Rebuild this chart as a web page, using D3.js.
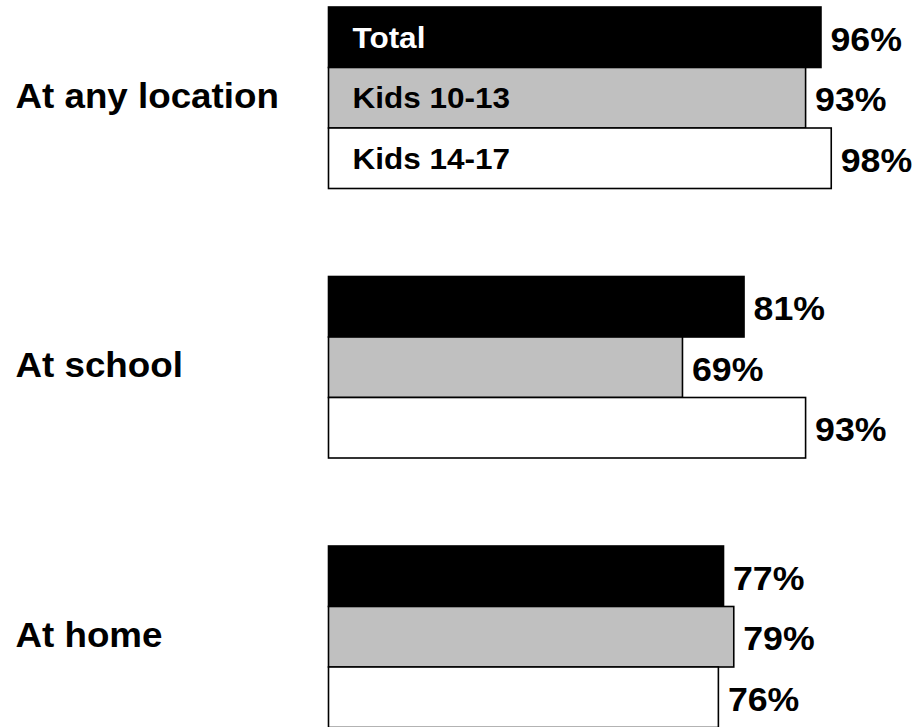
<!DOCTYPE html>
<html>
<head>
<meta charset="utf-8">
<script src="https://cdn.jsdelivr.net/npm/d3@7"></script>
<style>
html,body{margin:0;padding:0;background:#fff;}
svg{display:block;font-family:Arial,"Liberation Sans",sans-serif;font-weight:bold;}
</style>
</head>
<body>
<svg id="chart" width="915" height="727"></svg>
<script>
const categories = ["At any location", "At school", "At home"];
const seriesNames = ["Total", "Kids 10-13", "Kids 14-17"];
const totalValues = [96, 81, 77];
const kids1013Values = [93, 69, 79];
const kids1417Values = [98, 93, 76];
const seriesColors = ["#000000", "#c0c0c0", "#ffffff"];

const seriesValues = [totalValues, kids1013Values, kids1417Values];
const svg = d3.select("#chart");
const stretch = 1.05;

const x = d3.scaleLinear().domain([0, 100]).range([328.5, 841.5]);
const y0 = d3.scaleBand().domain(categories).range([7, 727.5]).paddingInner(88 / 269.5).paddingOuter(0);
const y1 = d3.scaleBand().domain(seriesNames).range([0, y0.bandwidth()]).padding(0);

const rows = [];
categories.forEach((c, ci) => {
  seriesNames.forEach((s, si) => {
    rows.push({cat: c, series: s, si: si, value: seriesValues[si][ci], first: ci === 0});
  });
});

const g = svg.append("g");

g.selectAll("rect.bar").data(rows).join("rect")
  .attr("class", "bar")
  .attr("x", x(0))
  .attr("y", d => y0(d.cat) + y1(d.series))
  .attr("width", d => x(d.value) - x(0))
  .attr("height", y1.bandwidth())
  .attr("fill", d => seriesColors[d.si])
  .attr("stroke", "#000")
  .attr("stroke-width", 1.6);

g.selectAll("text.val").data(rows).join("text")
  .attr("class", "val")
  .attr("transform", d => `translate(${x(d.value) + 9.5},${y0(d.cat) + y1(d.series) + y1.bandwidth() / 2 + 13.5}) scale(${stretch},1)`)
  .attr("font-size", 34)
  .attr("fill", "#000")
  .text(d => d.value + "%");

g.selectAll("text.series").data(rows.filter(d => d.first)).join("text")
  .attr("class", "series")
  .attr("transform", d => `translate(${x(0) + 24},${y0(d.cat) + y1(d.series) + y1.bandwidth() / 2 + 10.5}) scale(${stretch},1)`)
  .attr("font-size", 30)
  .attr("fill", d => d.si === 0 ? "#fff" : "#000")
  .text(d => d.series);

g.selectAll("text.cat").data(categories).join("text")
  .attr("class", "cat")
  .attr("transform", d => `translate(15.5,${y0(d) + y0.bandwidth() / 2 + 10}) scale(${stretch},1)`)
  .attr("font-size", 35)
  .attr("fill", "#000")
  .text(d => d);
</script>
</body>
</html>
